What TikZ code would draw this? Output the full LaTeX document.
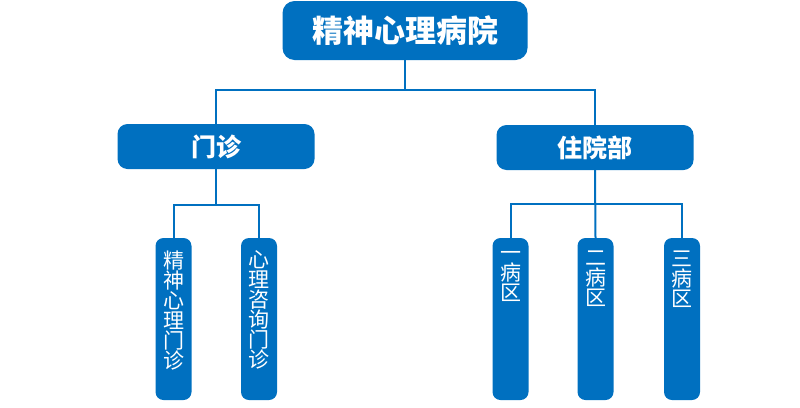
\documentclass[tikz,border=0pt]{standalone}
\usepackage{fontspec}
\newfontfamily\cjk{Noto Sans CJK SC}
\definecolor{hblue}{RGB}{0,112,192}
\tikzset{
  topbox/.style={fill=hblue, rounded corners=12pt, minimum width=245pt, minimum height=59pt, inner sep=0pt, text=white, font=\cjk\bfseries\fontsize{31}{31}\selectfont},
  midbox/.style={fill=hblue, rounded corners=10pt, minimum width=197pt, minimum height=45pt, inner sep=0pt, text=white, font=\cjk\bfseries\fontsize{25}{25}\selectfont},
  leafbox/.style={fill=hblue, rounded corners=8pt, minimum width=36pt, minimum height=162pt, inner sep=0pt},
  leaftext/.style={anchor=north, inner sep=0pt, text=white, align=center, font=\cjk\fontsize{21}{20}\selectfont},
  conn/.style={draw=hblue, line width=2pt}
}
\begin{document}
\begin{tikzpicture}[x=1pt,y=-1pt]
\useasboundingbox (0,0) rectangle (800,407);
\node[topbox] (top) at (405,30.5) {精神心理病院};
\node[midbox] (mz) at (216,146.5) {门诊};
\node[midbox] (zy) at (595,147.5) {住院部};
\node[leafbox] (l1) at (173.5,319) {};
\node[leafbox] (l2) at (259,319) {};
\node[leafbox] (r1) at (510.5,319) {};
\node[leafbox] (r2) at (595.5,319) {};
\node[leafbox] (r3) at (682,319) {};
\node[leaftext] (t1) at ([yshift=-13pt]l1.north) {精\\神\\心\\理\\门\\诊};
\node[leaftext] (t2) at ([yshift=-13pt]l2.north) {心\\理\\咨\\询\\门\\诊};
\node[leaftext] (t3) at ([yshift=-13pt]r1.north) {一\\病\\区};
\node[leaftext] (t4) at ([yshift=-13pt]r2.north) {二\\病\\区};
\node[leaftext] (t5) at ([yshift=-13pt]r3.north) {三\\病\\区};
\coordinate (j0) at (405,90);
\coordinate (j1) at (216,204.5);
\coordinate (j2) at (595,203.5);
\draw[conn] (top.south) -- (j0);
\draw[conn] (mz.north) |- (j0) -| (zy.north);
\draw[conn] (mz.south) -- (j1);
\draw[conn] (l1.north) |- (j1) -| (l2.north);
\draw[conn] (zy.south) -- (r2.north);
\draw[conn] (r1.north) |- (j2) -| (r3.north);
\end{tikzpicture}
\end{document}
